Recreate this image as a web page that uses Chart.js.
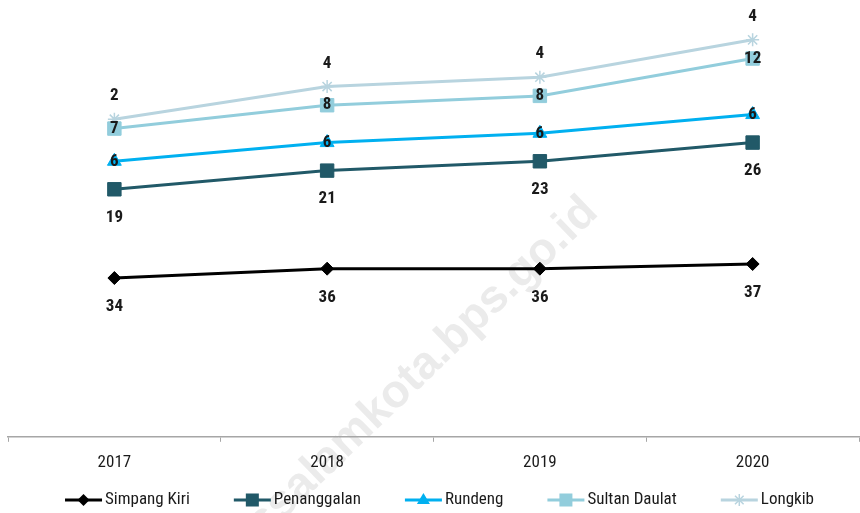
<!DOCTYPE html>
<html>
<head>
<meta charset="utf-8">
<script src="https://cdn.jsdelivr.net/npm/chart.js"></script>
<style>
    html, body { margin: 0; padding: 0; background: #ffffff; overflow: hidden; }
    #kecamatanChart { display: block; }
</style>
</head>
<body>
<canvas id="kecamatanChart" width="860" height="513"></canvas>
<script>
const years = ['2017', '2018', '2019', '2020'];
const seriesNames = ['Simpang Kiri', 'Penanggalan', 'Rundeng', 'Sultan Daulat', 'Longkib'];
const simpangKiri = [34, 36, 36, 37];
const penanggalan = [19, 21, 23, 26];
const rundeng = [6, 6, 6, 6];
const sultanDaulat = [7, 8, 8, 12];
const longkib = [2, 4, 4, 4];

const FONT = "'Roboto Condensed', 'Liberation Sans Narrow', sans-serif";
const colors = ['#000000', '#215968', '#00b0f0', '#92cddc', '#b8d4df'];
const markers = ['rectRot', 'rect', 'triangle', 'rect', 'star'];
const markerSizes = [6.5, 9.5, 8, 9.5, 6.5];
// where the value label sits relative to the point (px, + is below)
const labelOffsets = [29, 28, 0, 0, -23];

function drawMarker(ctx, style, cx, y) {
    ctx.beginPath();
    if (style === 'rectRot') {
        ctx.moveTo(cx, y - 6); ctx.lineTo(cx + 6, y); ctx.lineTo(cx, y + 6); ctx.lineTo(cx - 6, y);
        ctx.closePath(); ctx.fill();
    } else if (style === 'rect') {
        ctx.fillRect(cx - 6.5, y - 6.5, 13, 13);
    } else if (style === 'triangle') {
        ctx.moveTo(cx, y - 7); ctx.lineTo(cx + 6.5, y + 4); ctx.lineTo(cx - 6.5, y + 4);
        ctx.closePath(); ctx.fill();
    } else {
        ctx.lineWidth = 1.5;
        ctx.moveTo(cx - 6, y); ctx.lineTo(cx + 6, y);
        ctx.moveTo(cx, y - 6); ctx.lineTo(cx, y + 6);
        ctx.moveTo(cx - 4.3, y - 4.3); ctx.lineTo(cx + 4.3, y + 4.3);
        ctx.moveTo(cx - 4.3, y + 4.3); ctx.lineTo(cx + 4.3, y - 4.3);
        ctx.stroke();
    }
}

// excel-like legend: short line with the marker, then the name
const lineLegendPlugin = {
    id: 'lineLegend',
    afterDraw(chart) {
        const ctx = chart.ctx;
        const lineLen = 37, textGap = 3, itemGap = 44;
        const y = 500;
        ctx.save();
        ctx.font = '17px ' + FONT;
        const items = chart.data.datasets.map((ds, i) => ({
            text: ds.label,
            color: colors[i],
            style: markers[i],
            w: ctx.measureText(ds.label).width
        }));
        const total = items.reduce((s, it) => s + lineLen + textGap + it.w, 0) + itemGap * (items.length - 1);
        let x = (chart.chartArea.left + chart.chartArea.right) / 2 + 6 - total / 2;
        items.forEach(it => {
            ctx.strokeStyle = it.color;
            ctx.fillStyle = it.color;
            ctx.lineWidth = 3;
            ctx.beginPath();
            ctx.moveTo(x, y);
            ctx.lineTo(x + lineLen, y);
            ctx.stroke();
            drawMarker(ctx, it.style, x + lineLen / 2, y);
            ctx.fillStyle = '#1a1a1a';
            ctx.textAlign = 'left';
            ctx.textBaseline = 'middle';
            ctx.fillText(it.text, x + lineLen + textGap, y);
            x += lineLen + textGap + it.w + itemGap;
        });
        ctx.restore();
    }
};

const watermarkPlugin = {
    id: 'watermark',
    beforeDraw(chart) {
        const ctx = chart.ctx;
        ctx.save();
        ctx.translate(591, 205);
        ctx.rotate(-44 * Math.PI / 180);
        ctx.font = "bold 46px 'Liberation Sans', Arial, sans-serif";
        ctx.fillStyle = '#ebebeb';
        ctx.textAlign = 'right';
        ctx.textBaseline = 'middle';
        ctx.fillText('subulussalamkota.bps.go.id', 0, 0);
        ctx.restore();
    }
};

const valueLabelPlugin = {
    id: 'valueLabels',
    afterDatasetsDraw(chart) {
        const ctx = chart.ctx;
        ctx.save();
        ctx.font = 'bold 17px ' + FONT;
        ctx.fillStyle = '#1a1a1a';
        ctx.textAlign = 'center';
        ctx.textBaseline = 'middle';
        chart.data.datasets.forEach((ds, i) => {
            const meta = chart.getDatasetMeta(i);
            meta.data.forEach((pt, j) => {
                ctx.fillText(String(ds.data[j]), pt.x, pt.y + labelOffsets[i]);
            });
        });
        ctx.restore();
    }
};

const allSeries = [simpangKiri, penanggalan, rundeng, sultanDaulat, longkib];

const ctxMain = document.getElementById('kecamatanChart').getContext('2d');
new Chart(ctxMain, {
    type: 'line',
    data: {
        labels: years,
        datasets: allSeries.map((values, i) => ({
            label: seriesNames[i],
            data: values,
            borderColor: colors[i],
            backgroundColor: colors[i],
            borderWidth: 3,
            tension: 0,
            fill: false,
            pointStyle: markers[i],
            pointRadius: markerSizes[i],
            pointHoverRadius: markerSizes[i],
            pointBackgroundColor: colors[i],
            pointBorderColor: colors[i],
            pointBorderWidth: markers[i] === 'star' ? 1.5 : 1
        }))
    },
    options: {
        responsive: false,
        animation: false,
        layout: {
            autoPadding: false,
            padding: { top: 16.5, left: 8, right: 1, bottom: 28.5 }
        },
        scales: {
            x: {
                offset: true,
                grid: {
                    offset: true,
                    drawOnChartArea: false,
                    drawTicks: true,
                    tickLength: 5,
                    color: '#a6a6a6'
                },
                border: { display: true, color: '#a6a6a6', width: 1.5 },
                ticks: {
                    padding: 3.5,
                    color: '#1a1a1a',
                    font: { size: 17, family: FONT, lineHeight: 2.1 }
                }
            },
            y: {
                display: false,
                stacked: true,
                min: 0,
                max: 90
            }
        },
        plugins: {
            tooltip: { enabled: false },
            legend: { display: false }
        }
    },
    plugins: [watermarkPlugin, valueLabelPlugin, lineLegendPlugin]
});
</script>
</body>
</html>
